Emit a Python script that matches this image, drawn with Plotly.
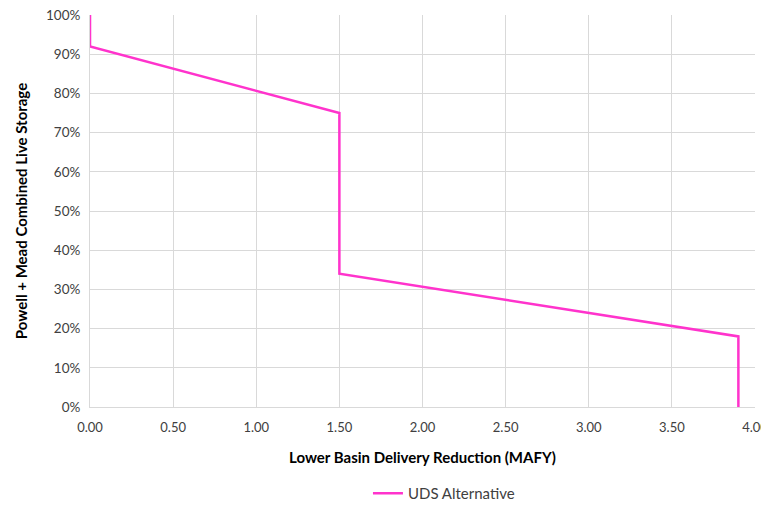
import plotly.graph_objects as go

# ---------------------------------------------------
# Data
# ---------------------------------------------------
REDUCTION_MAFY = [0.0, 0.0, 1.5, 1.5, 3.9, 3.9]
COMBINED_STORAGE = [1.00, 0.92, 0.75, 0.34, 0.18, 0.0]
SERIES_NAME = "UDS Alternative"

X_TICKS = [0.0, 0.5, 1.0, 1.5, 2.0, 2.5, 3.0, 3.5, 4.0]
Y_TICKS = [i / 10 for i in range(11)]

FONT = "Lato, Calibri, sans-serif"
GRID = "#D9D9D9"

fig = go.Figure()
fig.add_trace(
    go.Scatter(
        x=REDUCTION_MAFY,
        y=COMBINED_STORAGE,
        mode="lines",
        name=SERIES_NAME,
        line={"color": "#FF33CC", "width": 2.5},
    )
)

# page body has an 8px margin, so the figure is offset by 8px
fig.update_layout(
    width=761,
    height=502,
    paper_bgcolor="white",
    plot_bgcolor="white",
    font={"family": FONT, "size": 13.5, "color": "#404040"},
    margin={"l": 82, "r": 14, "t": 7, "b": 103},
    showlegend=True,
    legend={
        "orientation": "h",
        "x": 0.473,
        "xanchor": "left",
        "xref": "container",
        "y": 0.0,
        "yanchor": "bottom",
        "yref": "container",
        "font": {"size": 15, "color": "#404040"},
    },
)
fig.update_xaxes(
    range=[0, 4],
    tickvals=X_TICKS,
    ticktext=[f"{v:.2f}" for v in X_TICKS],
    tickfont={"size": 13},
    gridcolor=GRID,
    showline=True,
    linecolor=GRID,
    zeroline=False,
    ticks="",
    ticklabelstandoff=8,
    ticklabeloverflow="allow",
    automargin=False,
    title={
        "text": "<b>Lower Basin Delivery Reduction (MAFY)</b>",
        "font": {"size": 15, "color": "black"},
        "standoff": 18,
    },
)
fig.update_yaxes(
    range=[0, 1],
    tickvals=Y_TICKS,
    tickformat=".0%",
    gridcolor=GRID,
    showline=True,
    linecolor=GRID,
    zeroline=False,
    ticks="",
    ticklabelstandoff=6,
    ticklabeloverflow="allow",
    automargin=False,
    title={
        "text": "<b>Powell + Mead Combined Live Storage</b>",
        "font": {"size": 15, "color": "black"},
        "standoff": 14,
    },
)

fig.write_html("out.html")
